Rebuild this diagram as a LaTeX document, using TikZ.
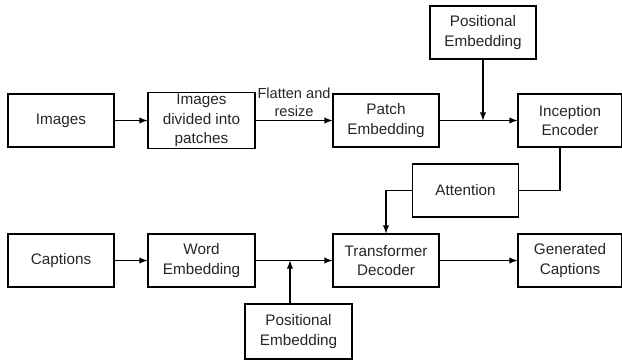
\documentclass[tikz,border=0pt]{standalone}
\usepackage{fontspec}
\setmainfont{Liberation Sans}
\usetikzlibrary{arrows}
\usetikzlibrary{positioning, calc}

\tikzset{
  block/.style={draw, line width=0.6pt, minimum width=2.12cm, minimum height=1.06cm,
    align=center, inner sep=1pt, text=black!85, font=\fontsize{8.7}{11.2}\selectfont},
  flow/.style={-latex, line width=0.6pt}
}

\begin{document}
\begin{tikzpicture}
      \useasboundingbox (0, 0) rectangle (12.44, 7.18);

      % encoder row
      \node[block] (images) at (1.22, 4.77) {Images};
      \node[block, minimum width=2.14cm] (patches) at (4.03, 4.77) {Images\\divided into\\patches};
      \node[block] (patch) at (7.72, 4.77) {Patch\\Embedding};
      \node[block, minimum width=2.08cm] (encoder) at (11.40, 4.77) {Inception\\Encoder};
      \node[block] (posA) at (9.66, 6.53) {Positional\\Embedding};
      \node[block] (attention) at (9.31, 3.37) {Attention};

      % decoder row
      \node[block] (captions) at (1.22, 1.97) {Captions};
      \node[block, minimum width=2.14cm] (word) at (4.03, 1.97) {Word\\Embedding};
      \node[block] (decoder) at (7.72, 1.97) {Transformer\\Decoder};
      \node[block, minimum width=2.08cm] (generated) at (11.40, 1.97) {Generated\\Captions};
      \node[block, minimum width=2.14cm, minimum height=1.1cm] (posB) at (5.97, 0.55) {Positional\\Embedding};

      \coordinate (mergeA) at (posA.south |- patch.east);
      \coordinate (encout) at ($(encoder.south)+(-0.2, 0)$);
      \coordinate (posBout) at ($(posB.north)+(-0.17, 0)$);
      \coordinate (mergeB) at (posBout |- word.east);

      \draw[flow] (images) -- (patches);
      \draw[flow] (patches) -- node[midway, above, align=center, inner sep=2pt, text=black!85,
        font=\fontsize{8.3}{10}\selectfont] {Flatten and\\resize} (patch);
      \draw[flow] (patch) -- (encoder);
      \draw[flow] (posA) -- (mergeA);
      \draw[line width=0.6pt] (encout) |- (attention.east);
      \draw[flow] (attention.west) -| (decoder.north);

      \draw[flow] (captions) -- (word);
      \draw[flow] (word) -- (decoder);
      \draw[flow] (posBout) -- (mergeB);
      \draw[flow] (decoder) -- (generated);

    \end{tikzpicture}
\end{document}
